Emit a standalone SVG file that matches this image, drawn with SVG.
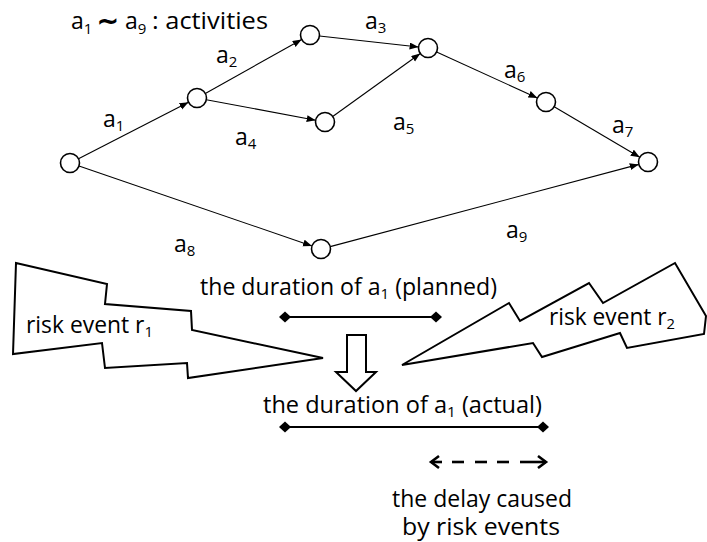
<svg xmlns="http://www.w3.org/2000/svg" width="707" height="542" viewBox="0 0 707 542">
<style>
  text { font-family: "Open Sans", "Noto Sans", "Liberation Sans", sans-serif; fill: #000; }
  .lbl { font-size: 23px; }
  .sub { font-size: 15px; }
  .node circle { fill: #fff; stroke: #000; stroke-width: 1.6; }
  .edge { stroke: #000; stroke-width: 1.1; fill: none; marker-end: url(#ah); }
  .shape { fill: #fff; stroke: #000; stroke-width: 2; stroke-linejoin: miter; }
  .dur { stroke: #000; stroke-width: 1.8; }
  .dia { fill: #000; }
  .dash { stroke: #000; stroke-width: 2.6; fill: none; }
</style>
<defs>
  <marker id="ah" markerUnits="userSpaceOnUse" markerWidth="10" markerHeight="8" refX="9" refY="3.5" orient="auto">
    <path d="M0,0 L9,3.5 L0,7 z" fill="#000"/>
  </marker>
</defs>

<!-- title -->
<g id="title">
  <text class="lbl" x="71" y="29">a<tspan class="sub" dy="5">1</tspan></text>
  <text x="97" y="30" font-size="27" font-weight="bold" textLength="22" lengthAdjust="spacingAndGlyphs">∼</text>
  <text class="lbl" x="125" y="29">a<tspan class="sub" dy="5">9</tspan></text>
  <text class="lbl" x="152" y="29" textLength="116" lengthAdjust="spacingAndGlyphs">: activities</text>
</g>

<!-- connectors -->
<g id="connectors">
  <line class="edge" x1="78.5" y1="158.7" x2="188.5" y2="102.3"/>
  <line class="edge" x1="205.3" y1="93.4" x2="301.7" y2="39.6"/>
  <line class="edge" x1="319.4" y1="36.0" x2="418.6" y2="47.0"/>
  <line class="edge" x1="206.3" y1="99.7" x2="315.7" y2="120.3"/>
  <line class="edge" x1="332.7" y1="116.5" x2="420.3" y2="53.5"/>
  <line class="edge" x1="436.6" y1="52.0" x2="537.4" y2="98.0"/>
  <line class="edge" x1="554.2" y1="106.8" x2="639.8" y2="157.2"/>
  <line class="edge" x1="79.0" y1="166.1" x2="312.0" y2="245.9"/>
  <line class="edge" x1="330.2" y1="246.6" x2="638.8" y2="164.4"/>
</g>

<!-- nodes -->
<g id="n0" class="node"><circle cx="70" cy="163" r="9.5"/></g>
<g id="n1" class="node"><circle cx="197" cy="98" r="9.5"/></g>
<g id="n2" class="node"><circle cx="310" cy="35" r="9.5"/></g>
<g id="n3" class="node"><circle cx="325" cy="122" r="9.5"/></g>
<g id="n4" class="node"><circle cx="428" cy="48" r="9.5"/></g>
<g id="n5" class="node"><circle cx="546" cy="102" r="9.5"/></g>
<g id="n6" class="node"><circle cx="648" cy="162" r="9.5"/></g>
<g id="n7" class="node"><circle cx="321" cy="249" r="9.5"/></g>

<!-- edge labels -->
<g id="labels">
  <text class="lbl" x="103" y="127">a<tspan class="sub" dy="4">1</tspan></text>
  <text class="lbl" x="216" y="63">a<tspan class="sub" dy="4">2</tspan></text>
  <text class="lbl" x="365" y="29">a<tspan class="sub" dy="4">3</tspan></text>
  <text class="lbl" x="235" y="145">a<tspan class="sub" dy="4">4</tspan></text>
  <text class="lbl" x="393" y="130">a<tspan class="sub" dy="4">5</tspan></text>
  <text class="lbl" x="504" y="78">a<tspan class="sub" dy="4">6</tspan></text>
  <text class="lbl" x="612" y="133">a<tspan class="sub" dy="4">7</tspan></text>
  <text class="lbl" x="174" y="252">a<tspan class="sub" dy="4">8</tspan></text>
  <text class="lbl" x="506" y="238">a<tspan class="sub" dy="4">9</tspan></text>
</g>

<!-- risk event r1 -->
<g id="risk1">
  <polygon class="shape" points="16,263 107,284 105,304 191,311 192,330 323,358 188,378 187,363 105,368 102,343 13,354"/>
  <text class="lbl" x="26" y="333" textLength="127" lengthAdjust="spacingAndGlyphs">risk event r<tspan class="sub" dy="4">1</tspan></text>
</g>

<!-- risk event r2 -->
<g id="risk2">
  <polygon class="shape" points="402,365 509,303 520,321 589,283 603,303 675,263 706,316 704,334 627,348 620,333 542,357 533,343"/>
  <text class="lbl" x="549" y="325" textLength="126" lengthAdjust="spacingAndGlyphs">risk event r<tspan class="sub" dy="4">2</tspan></text>
</g>

<!-- planned duration -->
<g id="planned">
  <text class="lbl" x="200" y="295" textLength="297" lengthAdjust="spacingAndGlyphs">the duration of a<tspan class="sub" dy="4">1</tspan><tspan dy="-4"> (planned)</tspan></text>
  <line class="dur" x1="285" y1="317" x2="436" y2="317"/>
  <polygon class="dia" points="279,317 285,311.5 291,317 285,322.5"/>
  <polygon class="dia" points="430,317 436,311.5 442,317 436,322.5"/>
</g>

<!-- hollow arrow -->
<g id="down-arrow">
  <polygon class="shape" points="347,335 366,335 366,372 376,372 356,391 336,372 347,372"/>
</g>

<!-- actual duration -->
<g id="actual">
  <text class="lbl" x="263" y="413" textLength="279" lengthAdjust="spacingAndGlyphs">the duration of a<tspan class="sub" dy="4">1</tspan><tspan dy="-4"> (actual)</tspan></text>
  <line class="dur" x1="285" y1="427" x2="543" y2="427"/>
  <polygon class="dia" points="279,427 285,421.5 291,427 285,432.5"/>
  <polygon class="dia" points="537,427 543,421.5 549,427 543,432.5"/>
</g>

<!-- delay -->
<g id="delay">
  <polyline class="dash" points="439,456 431,462 439,468"/>
  <line class="dash" x1="431" y1="462" x2="442" y2="462"/>
  <line class="dash" x1="452" y1="462" x2="464" y2="462"/>
  <line class="dash" x1="475" y1="462" x2="487" y2="462"/>
  <line class="dash" x1="497" y1="462" x2="509" y2="462"/>
  <line class="dash" x1="520" y1="462" x2="546" y2="462"/>
  <polyline class="dash" points="538,456 546,462 538,468"/>
  <text class="lbl"><tspan x="392" y="507" textLength="180" lengthAdjust="spacingAndGlyphs">the delay caused</tspan><tspan x="402" y="535" textLength="158" lengthAdjust="spacingAndGlyphs">by risk events</tspan></text>
</g>
</svg>
